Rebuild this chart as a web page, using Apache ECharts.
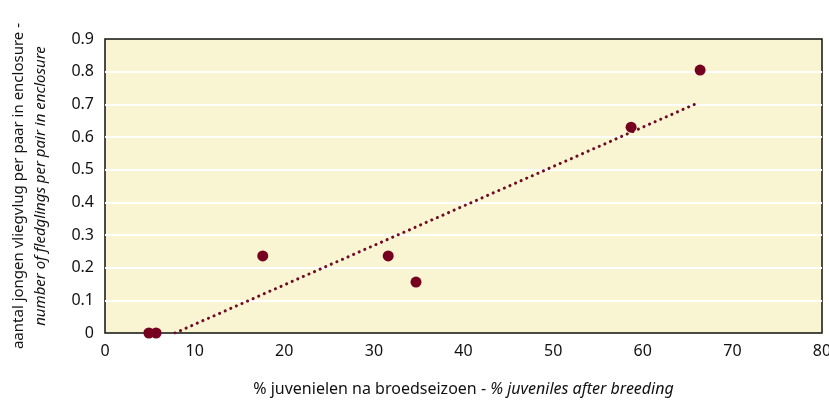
<!DOCTYPE html>
<html><head><meta charset="utf-8">
<script src="https://cdn.jsdelivr.net/npm/echarts@6/dist/echarts.min.js"></script>
<style>html,body{margin:0;padding:0;background:#fff}#c{width:829px;height:401px}</style>
</head><body><div id="c"></div>
<script>
// data
var juvenilePct = [4.9, 5.7, 17.6, 31.6, 34.7, 58.7, 66.4];
var fledglings = [0.0, 0.0, 0.236, 0.236, 0.156, 0.63, 0.805];
var trendX = [7.8, 66.2];
var trendY = [0.0, 0.705];
var xTicks = [0, 10, 20, 30, 40, 50, 60, 70, 80];
var yTicks = [0, 0.1, 0.2, 0.3, 0.4, 0.5, 0.6, 0.7, 0.8, 0.9];

var FONT = 'Noto Sans';
var chart = echarts.init(document.getElementById('c'));
chart.setOption({
  animation: false,
  grid: {left: 105, top: 39, right: 7, bottom: 68, outerBoundsMode: 'none', containLabel: false,
         show: true, backgroundColor: '#f9f4d1', borderColor: '#111', borderWidth: 1.5},
  xAxis: {
    type: 'value', min: xTicks[0], max: xTicks[xTicks.length-1], interval: 10,
    axisLine: {show: false}, axisTick: {show: false}, splitLine: {show: false},
    axisLabel: {color: '#111', fontFamily: FONT, fontSize: 16, margin: 10},
    name: '{a|% juvenielen na broedseizoen - }{b|% juveniles after breeding}',
    nameLocation: 'middle', nameGap: 48,
    nameTextStyle: {rich: {a: {fontFamily: FONT, fontSize: 16, color: '#111'}, b: {fontFamily: FONT, fontSize: 16, fontStyle: 'italic', color: '#111'}}}
  },
  yAxis: {
    type: 'value', min: yTicks[0], max: yTicks[yTicks.length-1], interval: 0.1,
    axisLine: {show: false}, axisTick: {show: false},
    splitLine: {show: true, showMinLine: false, showMaxLine: false, lineStyle: {color: '#ffffff', width: 2}},
    axisLabel: {color: '#111', fontFamily: FONT, fontSize: 16, margin: 11, formatter: function(v){return String(Math.round(v*10)/10);}},
    name: '{a|aantal jongen vliegvlug per paar in enclosure -}\n{b|number of fledglings per pair in enclosure}',
    nameLocation: 'middle', nameGap: 53, nameRotate: 90,
    nameTextStyle: {rich: {a: {fontFamily: FONT, fontSize: 15, color: '#111', lineHeight: 22}, b: {fontFamily: FONT, fontSize: 15, fontStyle: 'italic', color: '#111', lineHeight: 22}}}
  },
  series: [
    {type: 'line', data: trendX.map(function(x,i){return [x, trendY[i]];}), symbol: 'none',
     lineStyle: {color: '#6e0a26', width: 3, type: [0.1, 6], cap: 'round'}, z: 2},
    {type: 'scatter', data: juvenilePct.map(function(x,i){return [x, fledglings[i]];}), symbolSize: 11,
     itemStyle: {color: '#760020', opacity: 1}, z: 3}
  ]
});
</script></body></html>
